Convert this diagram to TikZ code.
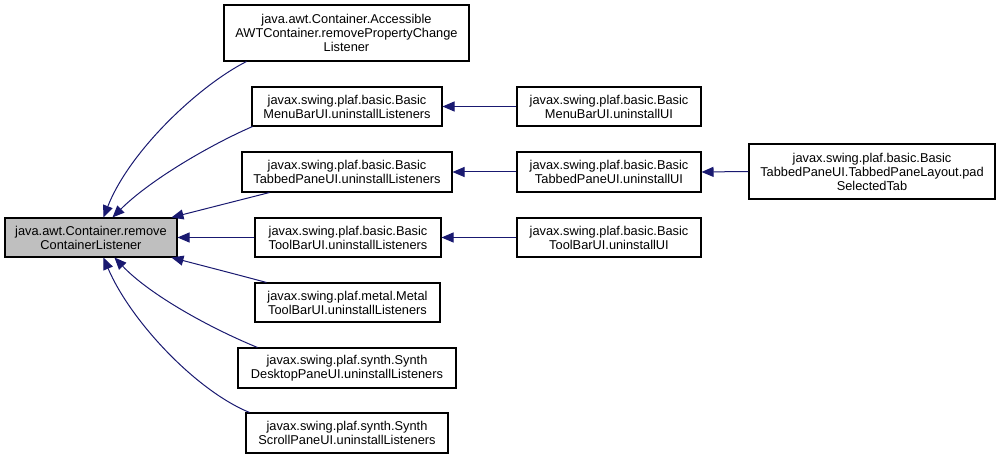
\documentclass[tikz,border=0pt]{standalone}
\usepackage{fontspec}
\setmainfont{Liberation Sans}
\usetikzlibrary{arrows.meta,calc}
\definecolor{edgeblue}{HTML}{191970}
\definecolor{rootgray}{HTML}{BFBFBF}
\begin{document}
\begin{tikzpicture}[x=0.75pt,y=-0.75pt,
  box/.style={draw=black,line width=0.8pt,fill=white,align=center,
    font=\fontsize{9.6}{10.5}\selectfont,inner sep=0pt},
  wh/.style 2 args={minimum width=#1*0.75pt,minimum height=#2*0.75pt},
  edge/.style={draw=edgeblue,line width=0.75pt,-{Triangle[length=9pt,width=7.5pt]}}]
\useasboundingbox (0,0) rectangle (1001,459);

\node[box,wh={172}{39},fill=rootgray] (root) at (91,237.5) {java.awt.Container.remove\\ContainerListener};
\node[box,wh={245}{56}] (A) at (346.5,33) {java.awt.Container.Accessible\\AWTContainer.removePropertyChange\\Listener};
\node[box,wh={190}{39}] (B) at (347,106.5) {javax.swing.plaf.basic.Basic\\MenuBarUI.uninstallListeners};
\node[box,wh={210}{40}] (C) at (347,172) {javax.swing.plaf.basic.Basic\\TabbedPaneUI.uninstallListeners};
\node[box,wh={186}{39}] (D) at (348,237.5) {javax.swing.plaf.basic.Basic\\ToolBarUI.uninstallListeners};
\node[box,wh={185}{39}] (E) at (347.5,302.5) {javax.swing.plaf.metal.Metal\\ToolBarUI.uninstallListeners};
\node[box,wh={218}{40}] (F) at (347,368) {javax.swing.plaf.synth.Synth\\DesktopPaneUI.uninstallListeners};
\node[box,wh={202}{40}] (G) at (347,433) {javax.swing.plaf.synth.Synth\\ScrollPaneUI.uninstallListeners};
\node[box,wh={184}{39}] (H) at (609,106.5) {javax.swing.plaf.basic.Basic\\MenuBarUI.uninstallUI};
\node[box,wh={184}{40}] (I) at (609,172) {javax.swing.plaf.basic.Basic\\TabbedPaneUI.uninstallUI};
\node[box,wh={184}{39}] (J) at (609,237.5) {javax.swing.plaf.basic.Basic\\ToolBarUI.uninstallUI};
\node[box,wh={246}{55}] (K) at (872,171.5) {javax.swing.plaf.basic.Basic\\TabbedPaneUI.TabbedPaneLayout.pad\\SelectedTab};

% edges into root
\draw[edge] ($(A.south west)+(23,0)$) .. controls (200,85) and (130,150) .. ($(root.north west)+(99,0)$);
\draw[edge] ($(B.south west)+(1,0)$) .. controls (210,145) and (150,180) .. ($(root.north west)+(108,0)$);
\draw[edge] ($(C.south west)+(28,0)$) -- ($(root.north west)+(167,0)$);
\draw[edge] (D.west) -- (root.east);
\draw[edge] ($(E.north west)+(12,0)$) .. controls (235,274) and (200,265) .. ($(root.south west)+(167,0)$);
\draw[edge] ($(F.north west)+(20,0)$) .. controls (210,328) and (150,295) .. ($(root.south west)+(110,0)$);
\draw[edge] ($(G.north west)+(4,0)$) .. controls (195,390) and (130,320) .. ($(root.south west)+(99,0)$);
% right side edges
\draw[edge] (H.west) -- (B.east);
\draw[edge] (I.west) -- (C.east);
\draw[edge] (J.west) -- (D.east);
\draw[edge] (K.west) -- (I.east);
\end{tikzpicture}
\end{document}
